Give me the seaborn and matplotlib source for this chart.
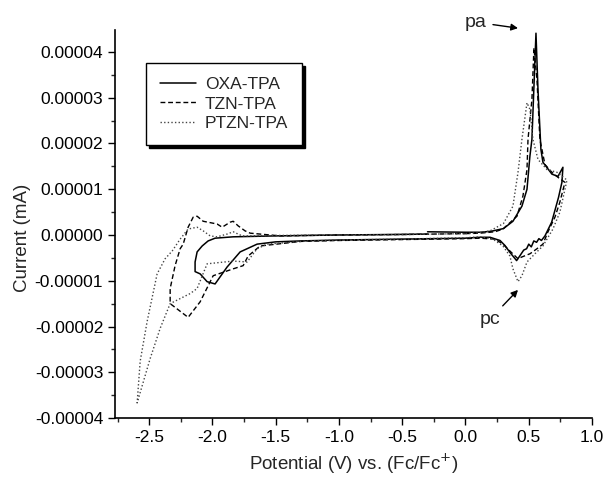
import matplotlib
matplotlib.use("Agg")
import matplotlib.pyplot as plt
import seaborn as sns
import pandas as pd
from matplotlib.lines import Line2D
from matplotlib.ticker import MultipleLocator, FormatStrFormatter

sns.set_style("ticks")
plt.rcParams['font.family'] = ['Liberation Sans', 'DejaVu Sans']

# ---- data (potential in V vs Fc/Fc+, current in units of 1e-5 mA) ----
oxa_v = [-0.30, 0.00, 0.115, 0.20, 0.30, 0.375, 0.446, 0.486, 0.509, 0.525, 0.557, 0.573, 0.596, 0.612,
         0.683, 0.731, 0.770, 0.762, 0.735, 0.681, 0.628, 0.60, 0.58, 0.562, 0.54, 0.52, 0.50, 0.483, 0.46,
         0.431, 0.404, 0.351, 0.312, 0.273, 0.194, 0.115, 0.0, -0.5, -1.0, -1.307, -1.50, -1.647, -1.781,
         -1.884, -1.979, -2.042, -2.097, -2.137, -2.137, -2.121, -2.081, -2.034, -1.979, -1.836, -1.5,
         -1.0, -0.6, -0.30]
oxa_i = [0.07, 0.06, 0.06, 0.08, 0.14, 0.30, 0.63, 1.00, 1.72, 2.09, 4.41, 3.17, 1.87, 1.59,
         1.33, 1.28, 1.48, 1.15, 0.82, 0.28, -0.02, -0.12, -0.08, -0.16, -0.13, -0.26, -0.20, -0.30, -0.33,
         -0.45, -0.56, -0.38, -0.23, -0.12, -0.05, -0.05, -0.07, -0.09, -0.11, -0.13, -0.15, -0.20, -0.37,
         -0.70, -1.07, -1.02, -0.85, -0.80, -0.59, -0.37, -0.24, -0.13, -0.07, -0.04, -0.02,
         0.00, 0.01, 0.02]

tzn_v = [0.0, 0.115, 0.233, 0.296, 0.407, 0.454, 0.486, 0.494, 0.525, 0.541, 0.565, 0.588, 0.628, 0.683,
         0.731, 0.786, 0.746, 0.707, 0.652, 0.612, 0.565, 0.510, 0.446, 0.415, 0.351, 0.296, 0.233, 0.115,
         0.0, -0.5, -1.0, -1.3, -1.623, -1.718, -1.757, -1.836, -1.994, -2.097, -2.192, -2.334, -2.334,
         -2.295, -2.255, -2.231, -2.192, -2.152, -2.121, -2.073, -1.963, -1.923, -1.860, -1.836, -1.797,
         -1.742, -1.702, -1.465, -1.0, -0.5, 0.0]
tzn_i = [0.03, 0.04, 0.07, 0.13, 0.41, 0.85, 1.43, 2.09, 2.96, 4.09, 3.39, 2.09, 1.54, 1.37,
         1.26, 1.15, 0.72, 0.39, 0.07, -0.20, -0.30, -0.41, -0.48, -0.52, -0.35, -0.20, -0.09, -0.07,
         -0.08, -0.10, -0.12, -0.14, -0.24, -0.46, -0.67, -0.74, -0.89, -1.46, -1.80, -1.50, -1.17,
         -0.67, -0.30, -0.20, 0.17, 0.39, 0.41, 0.30, 0.24, 0.17, 0.28, 0.30, 0.20,
         0.09, 0.04, -0.02, 0.00, 0.01, 0.03]

ptzn_v = [0.0, 0.115, 0.194, 0.300, 0.375, 0.415, 0.446, 0.486, 0.510, 0.533, 0.573, 0.644, 0.723, 0.802,
          0.786, 0.746, 0.691, 0.612, 0.549, 0.486, 0.446, 0.415, 0.375, 0.351, 0.296, 0.217, 0.115, 0.0,
          -0.5, -1.0, -1.3, -1.568, -1.647, -1.726, -1.836, -2.042, -2.121, -2.176, -2.334, -2.413, -2.492,
          -2.595, -2.571, -2.516, -2.437, -2.374, -2.318, -2.255, -2.192, -2.121, -2.073, -2.018, -1.963,
          -1.884, -1.836, -1.765, -1.702, -1.5, -1.0, -0.5, 0.0]
ptzn_i = [0.03, 0.05, 0.09, 0.25, 0.63, 1.37, 2.09, 2.89, 2.74, 2.09, 1.65, 1.43, 1.37, 1.20,
          1.00, 0.50, 0.13, -0.24, -0.41, -0.59, -0.89, -1.02, -0.74, -0.46, -0.24, -0.09, -0.04, -0.06,
          -0.09, -0.11, -0.14, -0.20, -0.30, -0.59, -0.57, -0.63, -1.17, -1.28, -1.50, -2.04, -2.70,
          -3.67, -2.76, -1.89, -0.85, -0.52, -0.35, -0.09, 0.13, 0.17, 0.09, -0.02, -0.04,
          0.02, 0.07, -0.02, -0.02, -0.01, 0.00, 0.01, 0.03]

names = ["OXA-TPA", "TZN-TPA", "PTZN-TPA"]
scale = 1e-5

fig = plt.figure(figsize=(6.03, 4.79), dpi=100)
ax = fig.add_axes([0.1907, 0.1273, 0.7911, 0.8101])

styles = {
    "OXA-TPA": dict(color="black", linewidth=1.1, linestyle="-"),
    "TZN-TPA": dict(color="black", linewidth=1.0, linestyle=(0, (3.5, 2))),
    "PTZN-TPA": dict(color="#444444", linewidth=1.0, linestyle=(0, (1, 1.6))),
}
series = {"OXA-TPA": (oxa_v, oxa_i), "TZN-TPA": (tzn_v, tzn_i), "PTZN-TPA": (ptzn_v, ptzn_i)}

for name in names:
    v, i = series[name]
    df = pd.DataFrame({"V": v, "I": [x * scale for x in i]})
    sns.lineplot(data=df, x="V", y="I", sort=False, estimator=None, ax=ax, **styles[name])

ax.set_xlim(-2.77, 1.0)
ax.set_ylim(-4e-5, 4.48e-5)
ax.xaxis.set_major_locator(MultipleLocator(0.5))
ax.xaxis.set_minor_locator(MultipleLocator(0.25))
ax.yaxis.set_major_locator(MultipleLocator(1e-5))
ax.yaxis.set_minor_locator(MultipleLocator(0.5e-5))
ax.xaxis.set_major_formatter(FormatStrFormatter('%.1f'))
ax.yaxis.set_major_formatter(FormatStrFormatter('%.5f'))
ax.tick_params(which='major', direction='out', length=5, width=1, labelsize=12.5, colors='black')
ax.tick_params(which='minor', direction='out', length=3, width=1)
for s in ['top', 'right']:
    ax.spines[s].set_visible(False)
for s in ['left', 'bottom']:
    ax.spines[s].set_linewidth(1.2)
    ax.spines[s].set_color('black')

ax.set_xlabel("Potential (V) vs. (Fc/Fc$^{+}$)", fontsize=13.5, labelpad=5)
ax.set_ylabel("Current (mA)", fontsize=13.5)
ax.yaxis.set_label_coords(-0.176, 0.464)

handles = [Line2D([0], [0], **styles[n]) for n in names]
leg = ax.legend(handles, names, loc='upper left', bbox_to_anchor=(0.065, 0.915), borderaxespad=0,
                frameon=True, fancybox=False, edgecolor='black', fontsize=12.5, handlelength=2.1,
                shadow={'ox': 2.2, 'oy': -2.2, 'color': 'black', 'alpha': 1}, labelspacing=0.25,
                borderpad=0.8, handletextpad=0.5)
leg.get_frame().set_linewidth(1.0)

ax.annotate("pa", xy=(0.415, 4.52e-5), xytext=(0.083, 4.65e-5), fontsize=14, ha='center', va='center',
            annotation_clip=False,
            arrowprops=dict(arrowstyle='-|>', color='black', lw=1.0, shrinkA=2, shrinkB=0, mutation_scale=10))
ax.annotate("pc", xy=(0.415, -1.20e-5), xytext=(0.19, -1.85e-5), fontsize=14, ha='center', va='center',
            arrowprops=dict(arrowstyle='-|>', color='black', lw=1.0, shrinkA=2, shrinkB=0, mutation_scale=10))

fig.savefig("out.png", dpi=100)
